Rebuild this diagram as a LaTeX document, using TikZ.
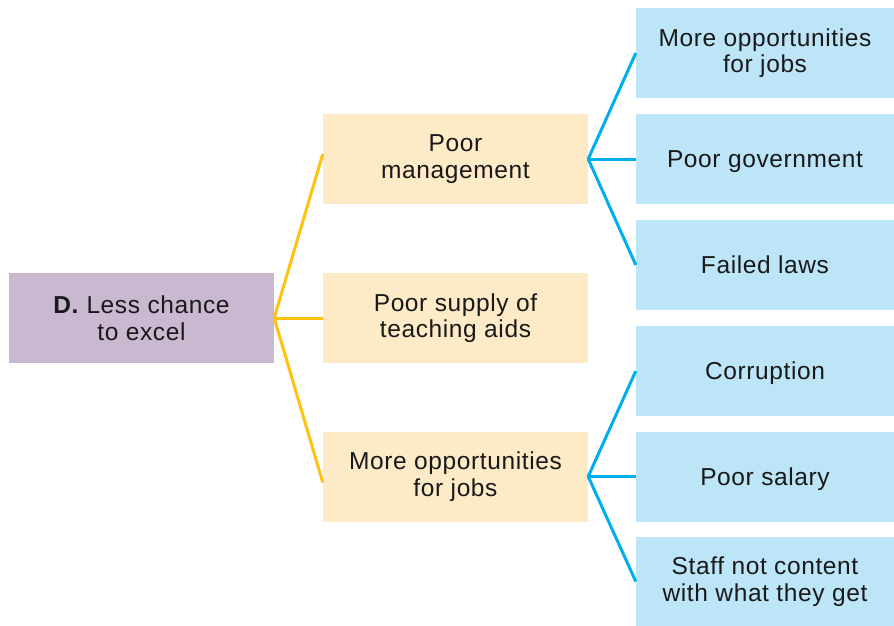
\documentclass[tikz,border=0pt]{standalone}
\usepackage{fontspec}
\setmainfont{Liberation Sans}[LetterSpace=2.5]
\begin{document}
\begin{tikzpicture}[x=1pt,y=-1pt,
  box/.style={rectangle, inner sep=0pt, align=center, text=black!90,
    font=\fontsize{24.5}{26.6}\selectfont, minimum height=90pt},
  single/.style={text height=17.5pt, text depth=0pt},
  rootbox/.style={box, fill=rootc, minimum width=265pt},
  midbox/.style={box, fill=midc, minimum width=265pt},
  rightbox/.style={box, fill=rightc, minimum width=258pt},
  yline/.style={draw=ylinec, line width=3pt, line join=round},
  bline/.style={draw=blinec, line width=3pt, line join=round}]
\definecolor{rootc}{HTML}{C9B8D0}
\definecolor{midc}{HTML}{FDEAC6}
\definecolor{rightc}{HTML}{BDE5F8}
\definecolor{ylinec}{HTML}{FFC20E}
\definecolor{blinec}{HTML}{00AEEF}
\useasboundingbox (0,0) rectangle (894,626);
\node[rootbox] (root) at (141.5,318) {\textbf{D.} Less chance\\to excel};
\node[midbox] (m1) at (455.5,159) {Poor\\management};
\node[midbox] (m2) at (455.5,318) {Poor supply of\\teaching aids};
\node[midbox] (m3) at (455.5,476.5) {More opportunities\\for jobs};
\node[rightbox] (r1) at (765,53) {More opportunities\\for jobs};
\node[rightbox, single] (r2) at (765,159) {Poor government};
\node[rightbox, single] (r3) at (765,265) {Failed laws};
\node[rightbox, single] (r4) at (765,371) {Corruption};
\node[rightbox, single] (r5) at (765,476.5) {Poor salary};
\node[rightbox] (r6) at (765,581.5) {Staff not content\\with what they get};
\draw[yline] ([yshift=5pt]m1.west) -- (root.east) -- ([yshift=-6pt]m3.west);
\draw[yline] (root.east) -- (m2.west);
\draw[bline] (r1.west) -- (m1.east) -- (r3.west);
\draw[bline] (m1.east) -- (r2.west);
\draw[bline] (r4.west) -- (m3.east) -- (r6.west);
\draw[bline] (m3.east) -- (r5.west);
\end{tikzpicture}
\end{document}
